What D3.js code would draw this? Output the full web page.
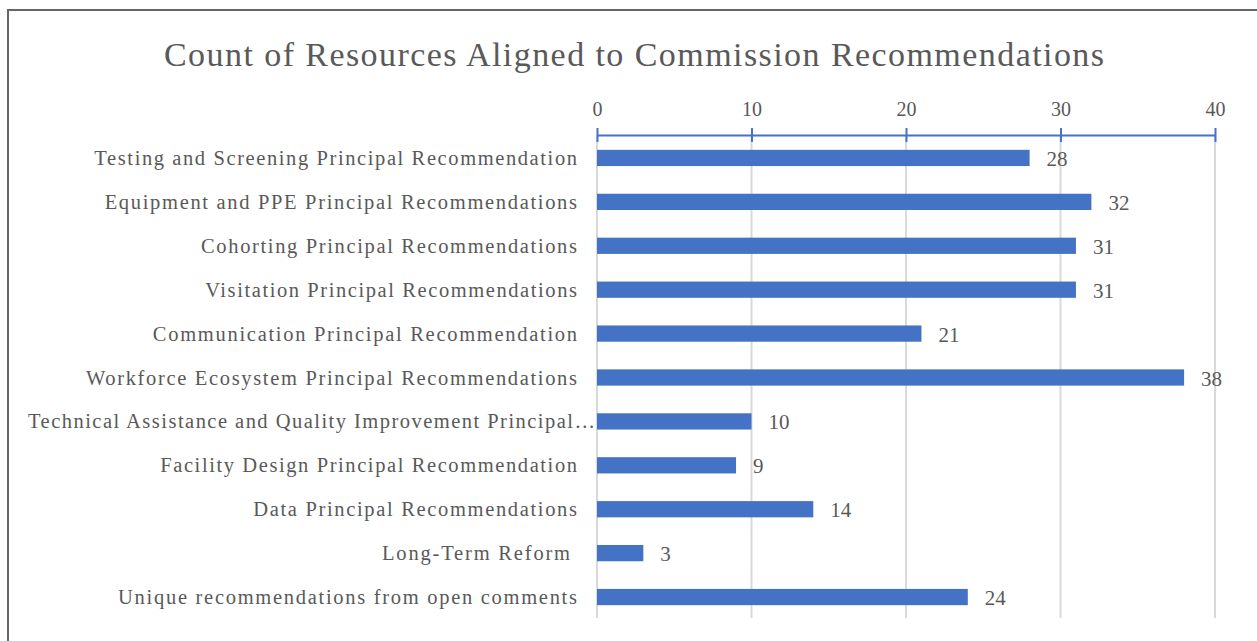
<!DOCTYPE html>
<html>
<head>
<meta charset="utf-8">
<script src="https://cdn.jsdelivr.net/npm/d3@7"></script>
<style>
  body { margin: 0; background: #fff; }
  text { font-family: "Liberation Serif", "Times New Roman", serif; fill: #595959; white-space: pre; }
</style>
</head>
<body>
<svg></svg>
<script>
const categories = [
  'Testing and Screening Principal Recommendation',
  'Equipment and PPE Principal Recommendations',
  'Cohorting Principal Recommendations',
  'Visitation Principal Recommendations',
  'Communication Principal Recommendation',
  'Workforce Ecosystem Principal Recommendations',
  'Technical Assistance and Quality Improvement Principal…',
  'Facility Design Principal Recommendation',
  'Data Principal Recommendations',
  'Long-Term Reform ',
  'Unique recommendations from open comments'
];
const counts = [28, 32, 31, 31, 21, 38, 10, 9, 14, 3, 24];
const tickValues = [0, 10, 20, 30, 40];
const title = 'Count of Resources Aligned to Commission Recommendations';

const width = 1257, height = 641;
const data = categories.map((c, i) => ({category: c, count: counts[i]}));

const svg = d3.select('svg')
  .attr('width', width)
  .attr('height', height);

// frame
svg.append('rect')
  .attr('x', 8).attr('y', 10)
  .attr('width', 1260).attr('height', 640)
  .attr('fill', '#fff')
  .attr('stroke', '#666')
  .attr('stroke-width', 2);

svg.append('text')
  .attr('x', 634)
  .attr('y', 66)
  .attr('text-anchor', 'middle')
  .attr('font-size', 34)
  .attr('textLength', 940)
  .attr('lengthAdjust', 'spacing')
  .text(title);

const xScale = d3.scaleLinear()
  .domain([0, 40])
  .range([597, 1215]);

const yScale = d3.scaleBand()
  .domain(categories)
  .range([136, 619])
  .paddingInner(0.63)
  .paddingOuter(0.315);

const axisY = 135;

// gridlines
svg.append('g')
  .selectAll('line')
  .data(tickValues)
  .join('line')
    .attr('x1', d => xScale(d)).attr('x2', d => xScale(d))
    .attr('y1', axisY).attr('y2', 618)
    .attr('stroke', '#d9d9d9')
    .attr('stroke-width', 2);

// bars
svg.append('g')
  .selectAll('rect')
  .data(data)
  .join('rect')
    .attr('x', xScale(0))
    .attr('y', d => yScale(d.category))
    .attr('width', d => xScale(d.count) - xScale(0))
    .attr('height', yScale.bandwidth())
    .attr('fill', '#4472c4');

// value labels
svg.append('g')
  .selectAll('text')
  .data(data)
  .join('text')
    .attr('x', d => xScale(d.count) + 17)
    .attr('y', d => yScale(d.category) + yScale.bandwidth() / 2 + 8)
    .attr('font-size', 21)
    .text(d => d.count);

// category labels (reference text is set wide, so stretch the spacing)
const maxLabel = 567;
svg.append('g')
  .selectAll('text')
  .data(data)
  .join('text')
    .attr('x', 577)
    .attr('y', d => yScale(d.category) + yScale.bandwidth() / 2 + 7)
    .attr('text-anchor', 'end')
    .attr('font-size', 20.5)
    .text(d => d.category)
    .each(function() {
      const w = this.getComputedTextLength() * 1.175;
      const t = d3.select(this)
        .attr('textLength', Math.min(w, maxLabel))
        .attr('lengthAdjust', 'spacing');
      // the truncated label runs right up to the axis
      if (w > maxLabel) t.attr('x', 595);
    });

// top axis
const axis = svg.append('g')
  .attr('transform', `translate(0, ${axisY})`)
  .call(d3.axisTop(xScale).tickValues(tickValues).tickSize(0).tickPadding(19));

axis.select('.domain')
  .attr('stroke', '#4472c4')
  .attr('stroke-width', 2);
axis.selectAll('.tick text')
  .attr('font-size', 20)
  .attr('font-family', '"Liberation Serif", serif')
  .attr('fill', '#595959');
axis.selectAll('.tick')
  .append('line')
    .attr('y1', -7).attr('y2', 7)
    .attr('stroke', '#4472c4')
    .attr('stroke-width', 2);
</script>
</body>
</html>
